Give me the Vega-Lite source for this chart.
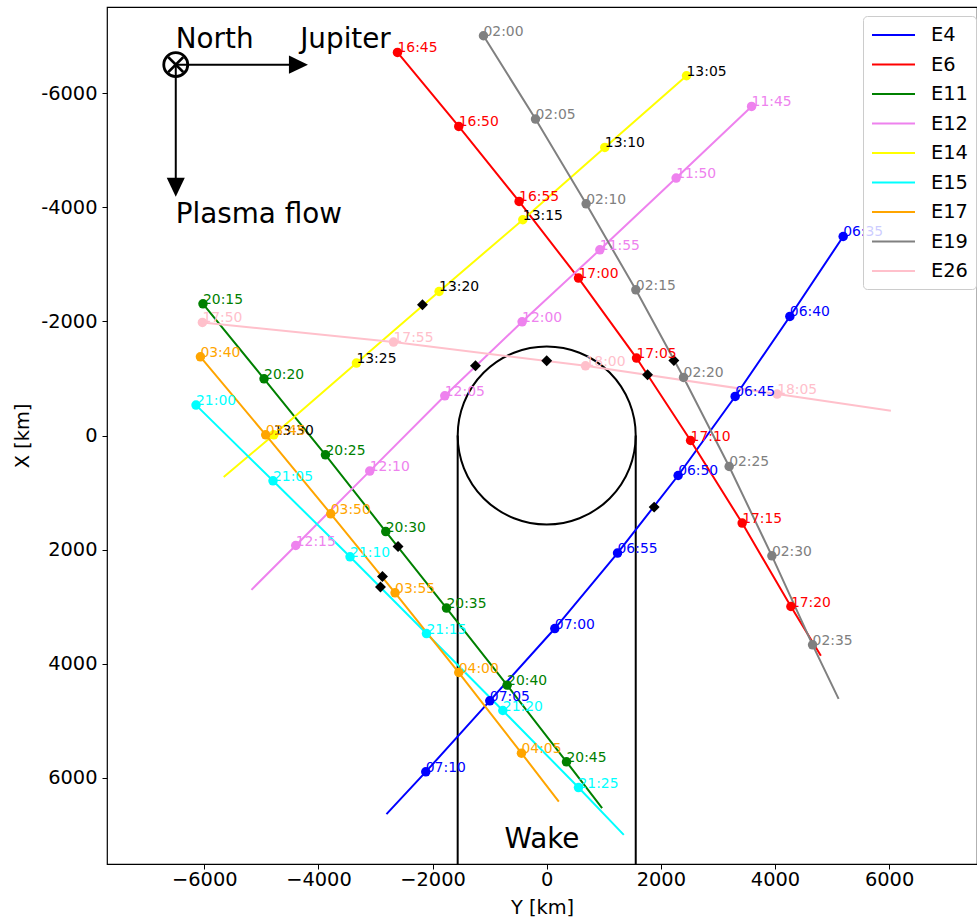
{
  "$schema": "https://vega.github.io/schema/vega-lite/v6.json",
  "width": 870,
  "height": 857,
  "autosize": {"type": "none"},
  "padding": {"left": 107, "top": 7, "right": 0, "bottom": 55},
  "background": "white",
  "config": {
    "font": "DejaVu Sans",
    "view": {"stroke": "black", "strokeWidth": 1.2},
    "axis": {"grid": false, "domain": false, "tickColor": "black", "tickSize": 5, "tickWidth": 1, "labelFontSize": 19.4, "labelColor": "black", "titleFontSize": 19.4, "titleFontWeight": "normal", "titleColor": "black"}
  },
  "datasets": {
    "traj": [
      {"flyby": "E4", "seq": 0, "label": "06:35", "Y": 5195, "X": -3488},
      {"flyby": "E4", "seq": 1, "label": "06:40", "Y": 4261, "X": -2086},
      {"flyby": "E4", "seq": 2, "label": "06:45", "Y": 3302, "X": -684},
      {"flyby": "E4", "seq": 3, "label": "06:50", "Y": 2303, "X": 701},
      {"flyby": "E4", "seq": 4, "label": "06:55", "Y": 1241, "X": 2061},
      {"flyby": "E4", "seq": 5, "label": "07:00", "Y": 142, "X": 3383},
      {"flyby": "E4", "seq": 6, "label": "07:05", "Y": -997, "X": 4650},
      {"flyby": "E4", "seq": 7, "label": "07:10", "Y": -2119, "X": 5895},
      {"flyby": "E4", "seq": 8, "label": null, "Y": -2808, "X": 6636},
      {"flyby": "E6", "seq": 0, "label": "16:45", "Y": -2615, "X": -6713},
      {"flyby": "E6", "seq": 1, "label": "16:50", "Y": -1541, "X": -5416},
      {"flyby": "E6", "seq": 2, "label": "16:55", "Y": -484, "X": -4102},
      {"flyby": "E6", "seq": 3, "label": "17:00", "Y": 557, "X": -2759},
      {"flyby": "E6", "seq": 4, "label": "17:05", "Y": 1574, "X": -1357},
      {"flyby": "E6", "seq": 5, "label": "17:10", "Y": 2521, "X": 88},
      {"flyby": "E6", "seq": 6, "label": "17:15", "Y": 3425, "X": 1535},
      {"flyby": "E6", "seq": 7, "label": "17:20", "Y": 4279, "X": 2997},
      {"flyby": "E6", "seq": 8, "label": null, "Y": 4804, "X": 3861},
      {"flyby": "E11", "seq": 0, "label": "20:15", "Y": -6023, "X": -2308},
      {"flyby": "E11", "seq": 1, "label": "20:20", "Y": -4953, "X": -994},
      {"flyby": "E11", "seq": 2, "label": "20:25", "Y": -3877, "X": 338},
      {"flyby": "E11", "seq": 3, "label": "20:30", "Y": -2820, "X": 1683},
      {"flyby": "E11", "seq": 4, "label": "20:35", "Y": -1756, "X": 3025},
      {"flyby": "E11", "seq": 5, "label": "20:40", "Y": -694, "X": 4375},
      {"flyby": "E11", "seq": 6, "label": "20:45", "Y": 347, "X": 5719},
      {"flyby": "E11", "seq": 7, "label": null, "Y": 971, "X": 6531},
      {"flyby": "E12", "seq": 0, "label": "11:45", "Y": 3590, "X": -5767},
      {"flyby": "E12", "seq": 1, "label": "11:50", "Y": 2268, "X": -4512},
      {"flyby": "E12", "seq": 2, "label": "11:55", "Y": 931, "X": -3255},
      {"flyby": "E12", "seq": 3, "label": "12:00", "Y": -431, "X": -1993},
      {"flyby": "E12", "seq": 4, "label": "12:05", "Y": -1786, "X": -696},
      {"flyby": "E12", "seq": 5, "label": "12:10", "Y": -3101, "X": 624},
      {"flyby": "E12", "seq": 6, "label": "12:15", "Y": -4398, "X": 1928},
      {"flyby": "E12", "seq": 7, "label": null, "Y": -5174, "X": 2705},
      {"flyby": "E14", "seq": 0, "label": "13:05", "Y": 2450, "X": -6305},
      {"flyby": "E14", "seq": 1, "label": "13:10", "Y": 1018, "X": -5048},
      {"flyby": "E14", "seq": 2, "label": "13:15", "Y": -419, "X": -3781},
      {"flyby": "E14", "seq": 3, "label": "13:20", "Y": -1886, "X": -2524},
      {"flyby": "E14", "seq": 4, "label": "13:25", "Y": -3334, "X": -1269},
      {"flyby": "E14", "seq": 5, "label": "13:30", "Y": -4783, "X": -12},
      {"flyby": "E14", "seq": 6, "label": null, "Y": -5660, "X": 729},
      {"flyby": "E15", "seq": 0, "label": "21:00", "Y": -6145, "X": -533},
      {"flyby": "E15", "seq": 1, "label": "21:05", "Y": -4796, "X": 794},
      {"flyby": "E15", "seq": 2, "label": "21:10", "Y": -3446, "X": 2126},
      {"flyby": "E15", "seq": 3, "label": "21:15", "Y": -2107, "X": 3471},
      {"flyby": "E15", "seq": 4, "label": "21:20", "Y": -769, "X": 4820},
      {"flyby": "E15", "seq": 5, "label": "21:25", "Y": 557, "X": 6170},
      {"flyby": "E15", "seq": 6, "label": null, "Y": 1351, "X": 6999},
      {"flyby": "E17", "seq": 0, "label": "03:40", "Y": -6068, "X": -1379},
      {"flyby": "E17", "seq": 1, "label": "03:45", "Y": -4924, "X": -12},
      {"flyby": "E17", "seq": 2, "label": "03:50", "Y": -3784, "X": 1372},
      {"flyby": "E17", "seq": 3, "label": "03:55", "Y": -2657, "X": 2757},
      {"flyby": "E17", "seq": 4, "label": "04:00", "Y": -1541, "X": 4154},
      {"flyby": "E17", "seq": 5, "label": "04:05", "Y": -442, "X": 5567},
      {"flyby": "E17", "seq": 6, "label": null, "Y": 212, "X": 6415},
      {"flyby": "E19", "seq": 0, "label": "02:00", "Y": -1108, "X": -7006},
      {"flyby": "E19", "seq": 1, "label": "02:05", "Y": -196, "X": -5546},
      {"flyby": "E19", "seq": 2, "label": "02:10", "Y": 691, "X": -4061},
      {"flyby": "E19", "seq": 3, "label": "02:15", "Y": 1562, "X": -2554},
      {"flyby": "E19", "seq": 4, "label": "02:20", "Y": 2398, "X": -1017},
      {"flyby": "E19", "seq": 5, "label": "02:25", "Y": 3197, "X": 543},
      {"flyby": "E19", "seq": 6, "label": "02:30", "Y": 3946, "X": 2109},
      {"flyby": "E19", "seq": 7, "label": "02:35", "Y": 4659, "X": 3669},
      {"flyby": "E19", "seq": 8, "label": null, "Y": 5115, "X": 4615},
      {"flyby": "E26", "seq": 0, "label": "17:50", "Y": -6033, "X": -1981},
      {"flyby": "E26", "seq": 1, "label": "17:55", "Y": -2685, "X": -1637},
      {"flyby": "E26", "seq": 2, "label": "18:00", "Y": 680, "X": -1222},
      {"flyby": "E26", "seq": 3, "label": "18:05", "Y": 4038, "X": -726},
      {"flyby": "E26", "seq": 4, "label": null, "Y": 6031, "X": -433}
    ],
    "closest": [
      {"flyby": "E4", "Y": 1883, "X": 1255},
      {"flyby": "E6", "Y": 1767, "X": -1064},
      {"flyby": "E11", "Y": -2605, "X": 1946},
      {"flyby": "E12", "Y": -1248, "X": -1222},
      {"flyby": "E14", "Y": -2177, "X": -2291},
      {"flyby": "E15", "Y": -2913, "X": 2657},
      {"flyby": "E17", "Y": -2878, "X": 2471},
      {"flyby": "E19", "Y": 2228, "X": -1315},
      {"flyby": "E26", "Y": 0, "X": -1309}
    ],
    "wake": [
      {"Y": -1560, "X": 0, "X2": 7510},
      {"Y": 1560, "X": 0, "X2": 7510}
    ],
    "europa": [{"Y": 0, "X": 0}],
    "notes": [
      {"text": "North", "Y": -6500, "X": -6800},
      {"text": "Jupiter", "Y": -4320, "X": -6800},
      {"text": "Plasma flow", "Y": -6500, "X": -3720},
      {"text": "Wake", "Y": -740, "X": 7230}
    ],
    "origin": [{"Y": -6500, "X": -6500}],
    "shafts": [
      {"Y": -6500, "X": -6500, "Y2": -4500, "X2": -6500},
      {"Y": -6500, "X": -6500, "Y2": -6500, "X2": -4500}
    ],
    "heads": [
      {"dir": "right", "Y": -4350, "X": -6500},
      {"dir": "down", "Y": -6500, "X": -4350}
    ]
  },
  "encoding": {
    "x": {
      "field": "Y", "type": "quantitative",
      "scale": {"domain": [-7705, 7540], "nice": false, "zero": false},
      "axis": {"values": [-6000, -4000, -2000, 0, 2000, 4000, 6000], "format": "d", "title": "Y [km]", "labelPadding": 1, "titlePadding": 10}
    },
    "y": {
      "field": "X", "type": "quantitative",
      "scale": {"domain": [-7510, 7510], "nice": false, "zero": false, "reverse": true},
      "axis": {"values": [-6000, -4000, -2000, 0, 2000, 4000, 6000], "labelExpr": "'' + datum.value", "title": "X [km]", "labelPadding": 5, "titlePadding": 8}
    }
  },
  "layer": [
    {
      "data": {"name": "wake"},
      "mark": {"type": "rule", "color": "black", "strokeWidth": 2},
      "encoding": {"y2": {"field": "X2"}}
    },
    {
      "data": {"name": "europa"},
      "mark": {"type": "point", "shape": "circle", "size": 31684, "filled": false, "color": "black", "strokeWidth": 2, "opacity": 1}
    },
    {
      "data": {"name": "traj"},
      "mark": {"type": "line", "strokeWidth": 2},
      "encoding": {
        "color": {
          "field": "flyby", "type": "nominal",
          "scale": {"domain": ["E4", "E6", "E11", "E12", "E14", "E15", "E17", "E19", "E26"], "range": ["blue", "red", "green", "violet", "yellow", "cyan", "orange", "gray", "pink"]},
          "legend": {"orient": "none", "legendX": 756, "legendY": 9, "title": null, "direction": "vertical", "symbolType": "M-1,0L3.3,0", "symbolSize": 400, "symbolStrokeWidth": 2, "labelFontSize": 19.4, "labelColor": "black", "labelOffset": 38, "rowPadding": 8.5, "padding": 8, "fillColor": "rgba(255,255,255,0.8)", "strokeColor": "#cccccc", "cornerRadius": 4}
        },
        "order": {"field": "seq", "type": "quantitative"}
      }
    },
    {
      "data": {"name": "traj"},
      "transform": [{"filter": "datum.label != null"}],
      "mark": {"type": "circle", "size": 90, "opacity": 1},
      "encoding": {"color": {"field": "flyby", "type": "nominal", "legend": null}}
    },
    {
      "data": {"name": "closest"},
      "mark": {"type": "point", "shape": "diamond", "size": 120, "filled": true, "color": "black", "opacity": 1}
    },
    {
      "data": {"name": "traj"},
      "transform": [{"filter": "datum.label != null"}],
      "mark": {"type": "text", "fontSize": 13.9, "align": "left", "baseline": "alphabetic"},
      "encoding": {
        "text": {"field": "label"},
        "color": {"condition": {"test": "datum.flyby === 'E14'", "value": "black"}, "field": "flyby", "type": "nominal", "legend": null}
      }
    },
    {
      "data": {"name": "notes"},
      "mark": {"type": "text", "fontSize": 27.8, "align": "left", "baseline": "alphabetic", "color": "black"},
      "encoding": {"text": {"field": "text"}}
    },
    {
      "data": {"name": "shafts"},
      "mark": {"type": "rule", "color": "black", "strokeWidth": 2},
      "encoding": {"x2": {"field": "Y2"}, "y2": {"field": "X2"}}
    },
    {
      "data": {"name": "heads"},
      "mark": {"type": "point", "filled": true, "color": "black", "size": 361, "opacity": 1},
      "encoding": {
        "shape": {"field": "dir", "type": "nominal", "scale": {"domain": ["right", "down"], "range": ["M-1,-0.95L1,0L-1,0.95Z", "M-0.95,-1L0,1L0.95,-1Z"]}, "legend": null}
      }
    },
    {
      "data": {"name": "origin"},
      "mark": {"type": "point", "shape": "circle", "size": 576, "filled": false, "color": "black", "strokeWidth": 2.8, "opacity": 1}
    },
    {
      "data": {"name": "origin"},
      "mark": {"type": "point", "shape": "M-1,-1L1,1M-1,1L1,-1", "size": 225, "filled": false, "color": "black", "strokeWidth": 2.8, "opacity": 1}
    }
  ]
}
